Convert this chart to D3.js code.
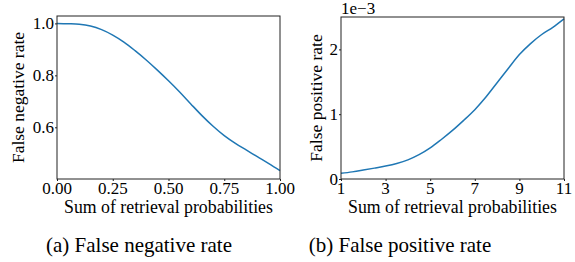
<!DOCTYPE html>
<html>
<head>
<meta charset="utf-8">
<script src="https://cdn.jsdelivr.net/npm/d3@7"></script>
</head>
<body style="margin:0">
<svg id="chart" width="575" height="262"></svg>
<script>
// (a) false negative rate vs sum of retrieval probabilities
const fnX = [0, 0.05, 0.10, 0.15, 0.20, 0.25, 0.30, 0.35, 0.40, 0.45, 0.50,
             0.55, 0.60, 0.65, 0.70, 0.75, 0.80, 0.85, 0.90, 0.95, 1.00];
const fnRate = [1.0, 0.999, 0.997, 0.99, 0.976, 0.955, 0.928, 0.895, 0.859, 0.82, 0.779,
                0.736, 0.69, 0.645, 0.604, 0.568, 0.538, 0.512, 0.486, 0.46, 0.433];
const fnXTicks = [0, 0.25, 0.5, 0.75, 1.0];
const fnYTicks = [0.6, 0.8, 1.0];

// (b) false positive rate (x 1e-3)
const fpX = [1, 1.5, 2, 2.5, 3, 3.5, 4, 4.5, 5, 5.5, 6, 6.5, 7, 7.5, 8, 8.5, 9, 9.5, 10, 10.5, 11];
const fpRate = [0.087, 0.11, 0.138, 0.168, 0.2, 0.24, 0.295, 0.375, 0.48, 0.61, 0.75,
                0.905, 1.07, 1.265, 1.485, 1.705, 1.92, 2.09, 2.23, 2.34, 2.47];
const fpXTicks = [1, 3, 5, 7, 9, 11];
const fpYTicks = [0, 1, 2];

const lineColor = "#1f77b4";
const serif = "Liberation Serif";

const svg = d3.select("#chart");

function label(g, txt, size) {
  return g.append("text")
    .attr("font-family", serif)
    .attr("font-size", size)
    .attr("fill", "#000")
    .text(txt);
}

function drawPanel(cfg) {
  const x = d3.scaleLinear().domain(cfg.xDomain).range([cfg.left, cfg.right]);
  const y = d3.scaleLinear().domain(cfg.yDomain).range([cfg.bottom, cfg.top]);
  const g = svg.append("g");

  const line = d3.line()
    .x((d, i) => x(cfg.xs[i]))
    .y(d => y(d))
    .curve(d3.curveCatmullRom);

  g.append("path")
    .datum(cfg.ys)
    .attr("d", line)
    .attr("fill", "none")
    .attr("stroke", lineColor)
    .attr("stroke-width", 1.5);

  // frame
  g.append("rect")
    .attr("x", cfg.left)
    .attr("y", cfg.top)
    .attr("width", cfg.right - cfg.left)
    .attr("height", cfg.bottom - cfg.top)
    .attr("fill", "none")
    .attr("stroke", "#222")
    .attr("stroke-width", 1);

  // tick marks from d3 axes, labels as plain text
  const xg = g.append("g").attr("transform", `translate(0,${cfg.bottom})`)
    .call(d3.axisBottom(x).tickValues(cfg.xTicks).tickFormat("").tickSizeInner(2).tickSizeOuter(0));
  xg.select(".domain").remove();
  xg.selectAll("line").attr("stroke", "#222");
  cfg.xTicks.forEach(t => {
    label(g, cfg.xFormat(t), 17)
      .attr("x", x(t))
      .attr("y", cfg.bottom + 15)
      .attr("text-anchor", "middle");
  });

  const yg = g.append("g").attr("transform", `translate(${cfg.left},0)`)
    .call(d3.axisLeft(y).tickValues(cfg.yTicks).tickFormat("").tickSizeInner(2).tickSizeOuter(0));
  yg.select(".domain").remove();
  yg.selectAll("line").attr("stroke", "#222");
  cfg.yTicks.forEach(t => {
    label(g, cfg.yFormat(t), 17)
      .attr("x", cfg.left - 3)
      .attr("y", y(t) + 6)
      .attr("text-anchor", "end");
  });

  label(g, "Sum of retrieval probabilities", 17.8)
    .attr("x", (cfg.left + cfg.right) / 2)
    .attr("y", 213)
    .attr("text-anchor", "middle");

  label(g, cfg.yLabel, 17.5)
    .attr("transform", `translate(${cfg.yLabelX},${(cfg.top + cfg.bottom) / 2}) rotate(-90)`)
    .attr("text-anchor", "middle");

  label(g, cfg.caption, 21)
    .attr("x", cfg.captionX)
    .attr("y", 252)
    .attr("text-anchor", "middle");

  return g;
}

drawPanel({
  xs: fnX, ys: fnRate,
  xDomain: [0, 1], yDomain: [0.401, 1.0285],
  left: 57, right: 280, top: 16, bottom: 179,
  xTicks: fnXTicks, yTicks: fnYTicks,
  xFormat: d3.format(".2f"), yFormat: d3.format(".1f"),
  yLabel: "False negative rate", yLabelX: 24,
  caption: "(a) False negative rate", captionX: 139
});

const right = drawPanel({
  xs: fpX, ys: fpRate,
  xDomain: [1, 11], yDomain: [0, 2.5],
  left: 341, right: 564, top: 17, bottom: 179,
  xTicks: fpXTicks, yTicks: fpYTicks,
  xFormat: d3.format("d"), yFormat: d3.format("d"),
  yLabel: "False positive rate", yLabelX: 322,
  caption: "(b) False positive rate", captionX: 400
});

label(right, "1e\u22123", 17)
  .attr("x", 341)
  .attr("y", 14);
</script>
</body>
</html>
